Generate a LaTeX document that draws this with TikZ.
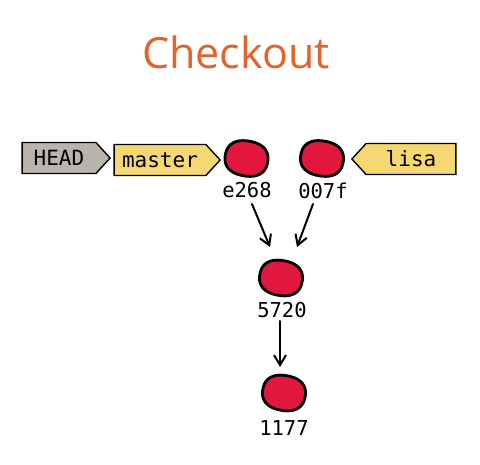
\documentclass[tikz,border=0pt]{standalone}
\usepackage{fontspec}
\setmainfont{Open Sans}
\newfontfamily\monofont{DejaVu Sans Mono}
\usetikzlibrary{shapes.symbols,shapes.geometric,arrows.meta}
\definecolor{tagyellow}{HTML}{F6D873}
\definecolor{taggray}{HTML}{B9B4AC}
\definecolor{commitred}{HTML}{E2173E}
\definecolor{titleorange}{HTML}{E2632B}
\tikzset{
  tagbox/.style={signal, draw=black, line width=1.4pt, minimum height=31pt,
    inner sep=0pt, font=\monofont\fontsize{21}{21}\selectfont, signal pointer angle=95},
  commit/.style={ellipse, minimum width=44pt, minimum height=36pt, inner sep=0pt},
  commitline/.style={draw=black, fill=commitred, line width=2.8pt, line join=round},
  hashlabel/.style={font=\monofont\fontsize{20.5}{20.5}\selectfont, inner sep=0pt},
  arr/.style={-{Straight Barb[length=10pt,width=12pt,line width=2pt]}, line width=2pt, line cap=round}
}
\newcommand\commitblob[1]{\draw[commitline, shift={(#1)}, rotate=-10]
  plot[domain=5:355, samples=36, smooth cycle]
  ({21.5*cos(\x)*abs(cos(\x))^(-0.15)}, {17.5*sin(\x)*abs(sin(\x))^(-0.15)});}
\begin{document}
\begin{tikzpicture}[x=1pt,y=-1pt]
\useasboundingbox (0,0) rectangle (480,465);
\node[font=\fontsize{43}{43}\selectfont, text=titleorange, anchor=base, inner sep=0pt] (title) at (236,69) {Checkout};

\node[tagbox, fill=taggray, signal to=east, minimum width=88pt] (head) at (59,158) {HEAD\hspace{2pt}};
\node[tagbox, fill=tagyellow, signal to=east, minimum width=106pt] (master) at (160,160) {master\hspace{2pt}};
\node[tagbox, fill=tagyellow, signal to=west, minimum width=104pt] (lisa) at (411,159) {lisa\hspace{8pt}};

\node[commit] (e268) at (246.5,158.5) {};
\node[commit] (c007f) at (322,158.5) {};
\node[commit] (c5720) at (281,278) {};
\node[commit] (c1177) at (284,393) {};
\commitblob{e268}
\commitblob{c007f}
\commitblob{c5720}
\commitblob{c1177}

\node[hashlabel] (le268) at (247,190.5) {e268};
\node[hashlabel] (l007f) at (323,190.5) {007f};
\node[hashlabel] (l5720) at (282,310) {5720};
\node[hashlabel] (l1177) at (284,428.5) {1177};

\coordinate (a1s) at (252,204);
\coordinate (a1e) at (270,247);
\coordinate (a2s) at (313,204);
\coordinate (a2e) at (297,247);
\coordinate (a3s) at (280,321);
\coordinate (a3e) at (280,367);
\draw[arr] (a1s) -- (a1e);
\draw[arr] (a2s) -- (a2e);
\draw[arr] (a3s) -- (a3e);
\end{tikzpicture}
\end{document}
